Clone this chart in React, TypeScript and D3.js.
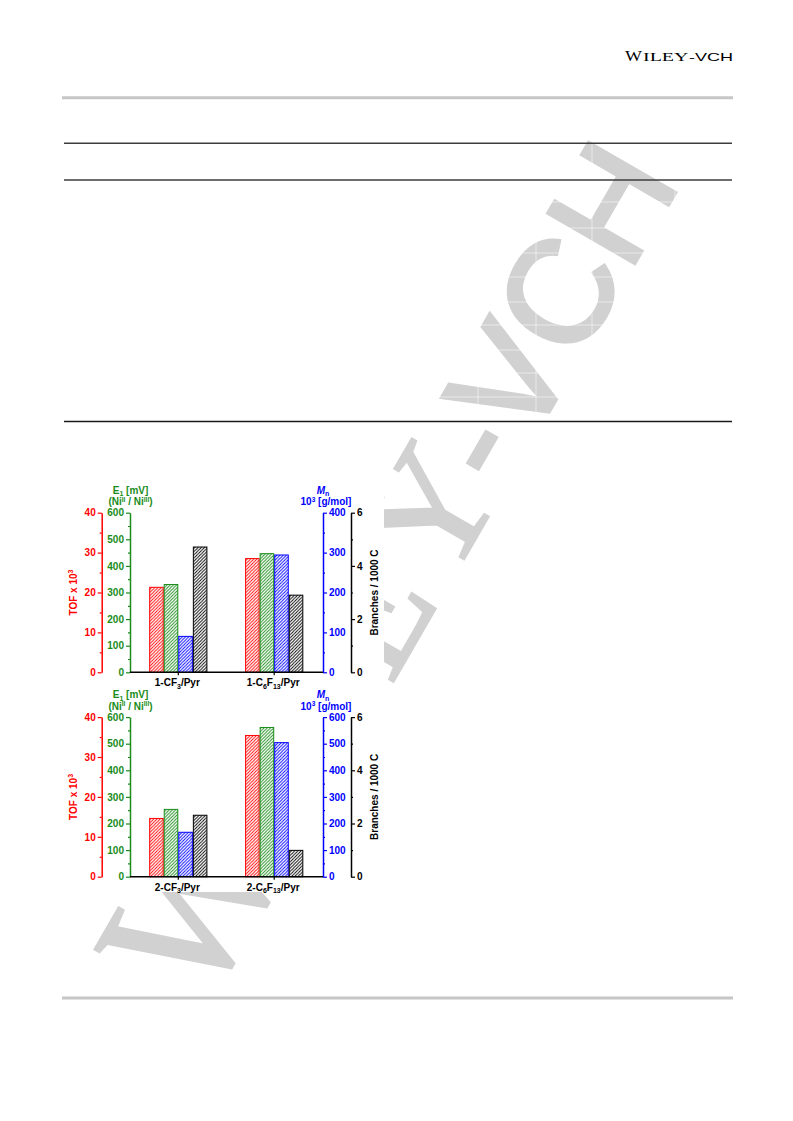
import React, { useEffect, useRef } from "react";
import * as d3 from "d3";

// ---------------- data ----------------
const categoriesTop = ["1-CF3/Pyr", "1-C6F13/Pyr"];
const categoriesBottom = ["2-CF3/Pyr", "2-C6F13/Pyr"];

const tofTop = [21.3, 28.5];
const e1Top = [330, 446];
const mnTop = [90, 294];
const branchesTop = [4.71, 2.9];

const tofBottom = [14.6, 35.4];
const e1Bottom = [253, 561];
const mnBottom = [167, 504];
const branchesBottom = [2.31, 0.99];

const tofDomain = [0, 40];
const e1Domain = [0, 600];
const mnDomainTop = [0, 400];
const mnDomainBottom = [0, 600];
const branchesDomain = [0, 6];

// ---------------- style ----------------
const RED = "#ff0000";
const GREEN = "#1a8c1a";
const BLUE = "#0000ff";
const BLACK = "#000000";
const SANS = "'Liberation Sans', Arial, sans-serif";
const SERIF = "'Liberation Serif', 'Times New Roman', serif";

const X_RED = 101.7;
const X_GREEN = 130;
const X_BLUE = 323;
const X_BLACK = 351;

function drawAxis(
  parent: d3.Selection<SVGGElement, unknown, null, undefined>,
  scale: d3.ScaleLinear<number, number>,
  x: number,
  side: "left" | "right",
  color: string,
  n: number
) {
  const mk = side === "left" ? d3.axisLeft : d3.axisRight;
  const major = scale.ticks(n);
  const minor = scale.ticks(n * 2).filter((v) => !major.includes(v));
  const gMinor = parent.append("g").attr("transform", `translate(${x},0)`);
  gMinor.call(mk(scale).tickValues(minor).tickSize(2).tickSizeOuter(0).tickFormat(() => ""));
  gMinor.select("path.domain").remove();
  gMinor.selectAll("line").attr("stroke", color).attr("stroke-width", 1.2);
  const g = parent.append("g").attr("transform", `translate(${x},0)`);
  g.call(
    mk(scale)
      .tickValues(major)
      .tickSize(4)
      .tickSizeOuter(0)
      .tickPadding(2)
      .tickFormat(d3.format("d") as any)
  );
  g.select("path.domain").attr("stroke", color).attr("stroke-width", 1.5);
  g.selectAll("line").attr("stroke", color).attr("stroke-width", 1.2);
  g.selectAll("text")
    .attr("fill", color)
    .attr("font-weight", "bold")
    .attr("font-size", 10)
    .attr("font-family", SANS);
  g.attr("font-family", SANS);
}

function CatLabel({ s, x, y }: { s: string; x: number; y: number }) {
  const parts: { t: string; sub: boolean }[] = [];
  const re = /(\d+)/g;
  let last = 0;
  let m: RegExpExecArray | null;
  while ((m = re.exec(s))) {
    if (m.index > last) parts.push({ t: s.slice(last, m.index), sub: false });
    const prev = s[m.index - 1];
    parts.push({ t: m[0], sub: !!prev && /[A-Za-z]/.test(prev) });
    last = m.index + m[0].length;
  }
  if (last < s.length) parts.push({ t: s.slice(last), sub: false });
  let shifted = false;
  return (
    <text x={x} y={y} textAnchor="middle" fontFamily={SANS} fontWeight="bold" fontSize={10} fill={BLACK}>
      {parts.map((p, i) => {
        let dy = 0;
        if (p.sub && !shifted) { dy = 2.5; shifted = true; }
        else if (!p.sub && shifted) { dy = -2.5; shifted = false; }
        return (
          <tspan key={i} dy={dy} fontSize={p.sub ? 7 : 10}>{p.t}</tspan>
        );
      })}
    </text>
  );
}

type PanelProps = {
  yTop: number;
  yBase: number;
  cats: string[];
  tof: number[];
  e1: number[];
  mn: number[];
  br: number[];
  mnDomain: number[];
};

function Panel({ yTop, yBase, cats, tof, e1, mn, br, mnDomain }: PanelProps) {
  const ref = useRef<SVGGElement>(null);
  const yTof = d3.scaleLinear().domain(tofDomain).range([yBase, yTop]);
  const yE1 = d3.scaleLinear().domain(e1Domain).range([yBase, yTop]);
  const yMn = d3.scaleLinear().domain(mnDomain).range([yBase, yTop]);
  const yBr = d3.scaleLinear().domain(branchesDomain).range([yBase, yTop]);
  const x0 = d3.scaleBand<string>().domain(cats).range([130, 322.5]).paddingInner(0.393).paddingOuter(0.2);
  const seriesKeys = ["tof", "e1", "mn", "br"];
  const x1 = d3.scaleBand<string>().domain(seriesKeys).range([0, x0.bandwidth()]).padding(0);
  const series = [
    { key: "tof", vals: tof, y: yTof, color: RED, pat: "hatch-red" },
    { key: "e1", vals: e1, y: yE1, color: GREEN, pat: "hatch-green" },
    { key: "mn", vals: mn, y: yMn, color: BLUE, pat: "hatch-blue" },
    { key: "br", vals: br, y: yBr, color: BLACK, pat: "hatch-black" },
  ];

  useEffect(() => {
    if (!ref.current) return;
    const g = d3.select(ref.current);
    g.selectAll("*").remove();
    drawAxis(g, yTof, X_RED, "left", RED, 4);
    drawAxis(g, yE1, X_GREEN, "left", GREEN, 6);
    drawAxis(g, yMn, X_BLUE, "right", BLUE, mnDomain[1] / 100);
    drawAxis(g, yBr, X_BLACK, "right", BLACK, 3);
  });

  const mid = (yTop + yBase) / 2;

  return (
    <g>
      {series.map((s) =>
        cats.map((c, i) => {
          const x = (x0(c) ?? 0) + (x1(s.key) ?? 0);
          const y = s.y(s.vals[i]);
          return (
            <rect
              key={s.key + c}
              x={x + 0.5}
              y={y}
              width={x1.bandwidth() - 1}
              height={yBase - y}
              fill={`url(#${s.pat})`}
              stroke={s.color}
              strokeWidth={1}
            />
          );
        })
      )}
      <g ref={ref} />
      <line x1={X_GREEN} x2={X_BLUE} y1={yBase} y2={yBase} stroke={BLACK} strokeWidth={1.6} />
      {cats.map((c) => {
        const cx = (x0(c) ?? 0) + x0.bandwidth() / 2;
        return (
          <g key={c}>
            <line x1={cx} x2={cx} y1={yBase} y2={yBase + 3} stroke={BLACK} strokeWidth={1.2} />
            <CatLabel s={c} x={cx - 1} y={yBase + 14} />
          </g>
        );
      })}
      {/* axis titles */}
      <text
        transform={`translate(77,${mid}) rotate(-90)`}
        textAnchor="middle"
        fontFamily={SANS}
        fontWeight="bold"
        fontSize={10}
        fill={RED}
      >
        TOF x 10<tspan dy={-4} fontSize={7}>3</tspan>
      </text>
      <text
        transform={`translate(377.6,${mid}) rotate(-90)`}
        textAnchor="middle"
        fontFamily={SANS}
        fontWeight="bold"
        fontSize={10}
        fill={BLACK}
      >
        Branches / 1000 C
      </text>
      <text x={130.5} y={yTop - 19} textAnchor="middle" fontFamily={SANS} fontWeight="bold" fontSize={10} fill={GREEN}>
        E<tspan dy={2.5} fontSize={7}>1</tspan>
        <tspan dy={-2.5}> [mV]</tspan>
      </text>
      <text x={130.5} y={yTop - 7.5} textAnchor="middle" fontFamily={SANS} fontWeight="bold" fontSize={10} fill={GREEN}>
        (Ni<tspan dy={-3.5} fontSize={6.5}>II</tspan>
        <tspan dy={3.5}> / Ni</tspan>
        <tspan dy={-3.5} fontSize={6.5}>III</tspan>
        <tspan dy={3.5}>)</tspan>
      </text>
      <text x={323} y={yTop - 19} textAnchor="middle" fontFamily={SANS} fontWeight="bold" fontSize={10} fill={BLUE}>
        <tspan fontStyle="italic">M</tspan>
        <tspan dy={2.5} fontSize={7}>n</tspan>
      </text>
      <text x={326} y={yTop - 7.5} textAnchor="middle" fontFamily={SANS} fontWeight="bold" fontSize={10} fill={BLUE}>
        10<tspan dy={-3.5} fontSize={6.5}>3</tspan>
        <tspan dy={3.5}> [g/mol]</tspan>
      </text>
    </g>
  );
}

function Hatch({ id, color }: { id: string; color: string }) {
  const p = 3.2;
  return (
    <pattern id={id} patternUnits="userSpaceOnUse" width={p} height={p}>
      <rect width={p} height={p} fill="#ffffff" />
      <path
        d={`M0,${p} L${p},0 M${-p / 4},${p / 4} L${p / 4},${-p / 4} M${p - p / 4},${p + p / 4} L${p + p / 4},${p - p / 4}`}
        stroke={color}
        strokeWidth={0.95}
      />
    </pattern>
  );
}

function Watermark() {
  const P = (t: number) => [655 + 0.5 * t, 228 - 0.866 * t];
  const letters = [
    { ch: "W", t: -815, size: 190, serif: true },
    { ch: "I", t: -683, size: 160, serif: true },
    { ch: "L", t: -592, size: 160, serif: true },
    { ch: "E", t: -479, size: 160, serif: true },
    { ch: "Y", t: -358, size: 160, serif: true },
    { ch: "-", t: -279, size: 145, serif: false },
    { ch: "V", t: -205, size: 145, serif: false },
    { ch: "C", t: -105, size: 145, serif: false },
    { ch: "H", t: 0, size: 145, serif: false },
  ];
  return (
    <g fill="#d1d1d1" stroke="#d1d1d1" strokeLinejoin="miter">
      {letters.map((l, i) => {
        const [x, y] = P(l.t);
        return (
          <text
            key={i}
            transform={`translate(${x},${y}) rotate(-60)`}
            textAnchor="middle"
            fontFamily={l.serif ? SERIF : SANS}
            fontSize={l.size}
            strokeWidth={l.serif ? 3 : 4}
          >
            {l.ch}
          </text>
        );
      })}
    </g>
  );
}

export default function App() {
  const colLines = [107, 183, 239, 297, 363, 411, 478, 536, 592, 675];
  const rowLines = [202, 228, 253, 277, 302, 325, 350, 373, 397];
  return (
    <svg
      width={793}
      height={1121}
      viewBox="0 0 793 1121"
      style={{ position: "absolute", left: 0, top: 0, background: "#ffffff" }}
    >
      <defs>
        <Hatch id="hatch-red" color={RED} />
        <Hatch id="hatch-green" color={GREEN} />
        <Hatch id="hatch-blue" color={BLUE} />
        <Hatch id="hatch-black" color={BLACK} />
      </defs>
      <rect width={793} height={1121} fill="#ffffff" />

      {/* header */}
      <text x={625} y={61} fontFamily={SERIF} fontSize={15} fill="#000" textLength={17} lengthAdjust="spacingAndGlyphs">W</text>
      <text x={643} y={61} fontFamily={SERIF} fontSize={12} fill="#000" textLength={45.5} lengthAdjust="spacingAndGlyphs">ILEY</text>
      <text x={689} y={61} fontFamily={SANS} fontSize={10.5} fill="#000" textLength={44} lengthAdjust="spacingAndGlyphs">-VCH</text>
      <line x1={62} x2={733} y1={97.8} y2={97.8} stroke="#c6c6c6" strokeWidth={3} />
      <line x1={62} x2={733} y1={998} y2={998} stroke="#c6c6c6" strokeWidth={3} />

      <Watermark />

      {/* faint table cell borders (only visible over the watermark) */}
      {colLines.map((x) => (
        <line key={"c" + x} x1={x} x2={x} y1={143} y2={421} stroke="#ffffff" strokeOpacity={0.55} strokeWidth={1} />
      ))}
      {rowLines.map((y) => (
        <line key={"r" + y} x1={64} x2={732} y1={y} y2={y} stroke="#ffffff" strokeOpacity={0.55} strokeWidth={1} />
      ))}

      {/* table rules */}
      <line x1={64} x2={732} y1={143.3} y2={143.3} stroke="#3c3c3c" strokeWidth={1.6} />
      <line x1={64} x2={732} y1={180} y2={180} stroke="#3c3c3c" strokeWidth={1.6} />
      <line x1={64} x2={732} y1={421.5} y2={421.5} stroke="#1a1a1a" strokeWidth={1.6} />

      {/* chart figure background */}
      <rect x={62} y={478} width={322} height={414} fill="#ffffff" />

      <Panel
        yTop={512.7}
        yBase={672.3}
        cats={categoriesTop}
        tof={tofTop}
        e1={e1Top}
        mn={mnTop}
        br={branchesTop}
        mnDomain={mnDomainTop}
      />
      <Panel
        yTop={717.1}
        yBase={876.7}
        cats={categoriesBottom}
        tof={tofBottom}
        e1={e1Bottom}
        mn={mnBottom}
        br={branchesBottom}
        mnDomain={mnDomainBottom}
      />
    </svg>
  );
}
